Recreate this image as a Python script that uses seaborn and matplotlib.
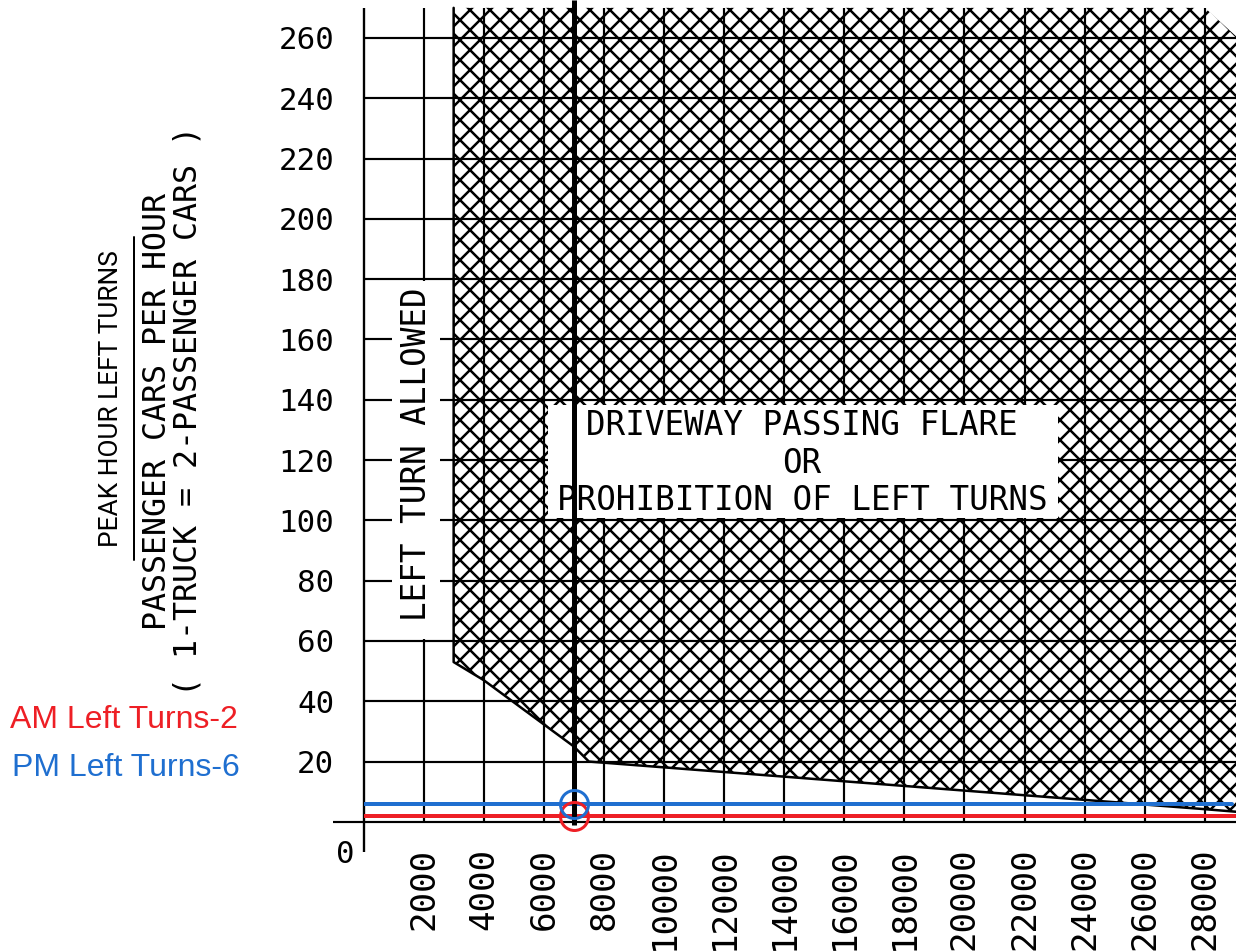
import matplotlib
matplotlib.use("Agg")
import matplotlib.pyplot as plt
from matplotlib import font_manager
from matplotlib.patches import Polygon, Rectangle
from matplotlib.lines import Line2D
import numpy as np
import seaborn as sns

# Axis scales
AADT_TICKS = [2000, 4000, 6000, 8000, 10000, 12000, 14000,
              16000, 18000, 20000, 22000, 24000, 26000, 28000]
TURN_TICKS = [0, 20, 40, 60, 80, 100, 120, 140, 160, 180, 200, 220, 240, 260]

# Region where a driveway passing flare or a left-turn prohibition applies
ZONE_AADT = [3000, 3000, 4000, 7000, 7500, 28000, 29100, 29100, 28000]
ZONE_TURNS = [270, 53, 47, 25, 20, 4.2, 3.3, 260, 270]
# Outlined part of that region (left side and lower edge)
EDGE_AADT = [3000, 3000, 4000, 7000, 7500, 28000, 29100]
EDGE_TURNS = [270, 53, 47, 25, 20, 4.2, 3.3]

# Site data
SITE_AADT = 7000
AM_LEFT_TURNS = 2
PM_LEFT_TURNS = 6

RED = "#ee1f25"
BLUE = "#1f6fd0"
MONO = "DejaVu Sans Mono"


def first_available(names):
    for name in names:
        try:
            font_manager.findfont(font_manager.FontProperties(family=name),
                                  fallback_to_default=False)
            return name
        except Exception:
            continue
    return "DejaVu Sans"


NARROW = first_available(["Noto Sans ExtraCondensed", "Noto Sans Condensed",
                          "Liberation Sans Narrow", "Roboto", "DejaVu Sans"])

sns.set_theme(style="white")
plt.rcParams["hatch.linewidth"] = 1.5
plt.rcParams["hatch.color"] = "black"

fig = plt.figure(figsize=(10.3, 7.925), dpi=120)
fig.patch.set_facecolor("white")
W, H = 1236.0, 951.0
ax = fig.add_axes([363.5 / W, (H - 852) / H, (W - 363.5) / W, 852 / H])
XMAX = 29035
TOP = 270
ax.set_xlim(0, XMAX)
ax.set_ylim(-10, 272.6)
for s in ax.spines.values():
    s.set_visible(False)
ax.set_facecolor("white")

# Hatched warrant region
ax.add_patch(Polygon(np.column_stack([ZONE_AADT, ZONE_TURNS]), closed=True,
                     facecolor="white", edgecolor="black", hatch="xx",
                     linewidth=0, zorder=1))
sns.lineplot(x=EDGE_AADT, y=EDGE_TURNS, sort=False, estimator=None,
             color="black", lw=1.5, ax=ax, zorder=2)

# Grid
ax.vlines(AADT_TICKS, 0, TOP, color="black", lw=1.3, zorder=2)
ax.hlines(TURN_TICKS[1:], 0, XMAX, color="black", lw=1.3, zorder=2)
ax.hlines(TURN_TICKS[0], -1000, XMAX, color="black", lw=1.3, zorder=2,
          clip_on=False)
ax.vlines(0, -10, TOP, color="black", lw=1.4, zorder=2, clip_on=False)

# Ticks
ax.set_xticks(AADT_TICKS)
ax.set_xticklabels([str(v) for v in AADT_TICKS], rotation=90,
                   fontfamily=MONO, fontsize=20.5, color="black")
ax.set_yticks(TURN_TICKS)
ax.set_yticklabels([""] + [str(v) for v in TURN_TICKS[1:]],
                   fontfamily=MONO, fontsize=18.5, color="black")
ax.tick_params(axis="x", length=0, pad=-2.5)
ax.tick_params(axis="y", length=0, pad=17.5)
ax.annotate(str(TURN_TICKS[0]), xy=(0, TURN_TICKS[0]), xytext=(-18.5, -33),
            textcoords="offset pixels", ha="center", va="center",
            fontfamily=MONO, fontsize=18.5, color="black",
            annotation_clip=False)

# Text panels
ax.add_patch(Rectangle((950, 60.5), 1600, 119, facecolor="white",
                       edgecolor="none", zorder=3))
ax.text(1780, 121.9, "LEFT TURN ALLOWED", rotation=90, ha="center",
        va="center", fontfamily=MONO, fontsize=19.6, color="black", zorder=4)

ax.add_patch(Rectangle((6140, 100.8), 16970, 37.5, facecolor="white",
                       edgecolor="none", zorder=3))
ax.text(14590, 119.0, "DRIVEWAY PASSING FLARE\nOR\nPROHIBITION OF LEFT TURNS",
        ha="center", va="center", multialignment="center", linespacing=1.17,
        fontfamily=MONO, fontsize=19.5, color="black", zorder=4)

# Site lines
ax.axhline(AM_LEFT_TURNS, color=RED, lw=2.4, zorder=6)
ax.axhline(PM_LEFT_TURNS, xmax=0.995, color=BLUE, lw=2.4, zorder=6)
ax.vlines(SITE_AADT, -1, 272.6, color="black", lw=3.0, zorder=7)
ax.plot([SITE_AADT], [AM_LEFT_TURNS], "o", ms=16.8, mfc="none", mec=RED,
        mew=1.8, zorder=8)
ax.plot([SITE_AADT], [PM_LEFT_TURNS], "o", ms=16.8, mfc="none", mec=BLUE,
        mew=1.8, zorder=8)

# Axis titles
title = fig.text(111 / W, 1 - 398.5 / H, "PEAK HOUR LEFT TURNS", rotation=90,
                 ha="center", va="center", fontsize=20, family=NARROW,
                 color="black")
# size the title so that it spans the underline's length
fig.canvas.draw()
span = title.get_window_extent().height
title.set_fontsize(20 * 297.0 / span)

fig.add_artist(Line2D([134 / W, 134 / W], [1 - 237 / H, 1 - 560 / H],
                      color="black", lw=1.2))
fig.text(172.5 / W, 1 - 411 / H,
         "PASSENGER CARS PER HOUR\n( 1-TRUCK = 2-PASSENGER CARS )",
         rotation=90, ha="center", va="center", multialignment="center",
         linespacing=1.0, fontfamily=MONO, fontsize=19, color="black")

# Site labels
fig.text(10 / W, 1 - 720 / H, f"AM Left Turns-{AM_LEFT_TURNS}", color=RED,
         ha="left", va="center", fontsize=19.2, family="Liberation Sans")
fig.text(12 / W, 1 - 767.5 / H, f"PM Left Turns-{PM_LEFT_TURNS}", color=BLUE,
         ha="left", va="center", fontsize=19.2, family="Liberation Sans")

fig.savefig("out.png", dpi=120, facecolor="white")
